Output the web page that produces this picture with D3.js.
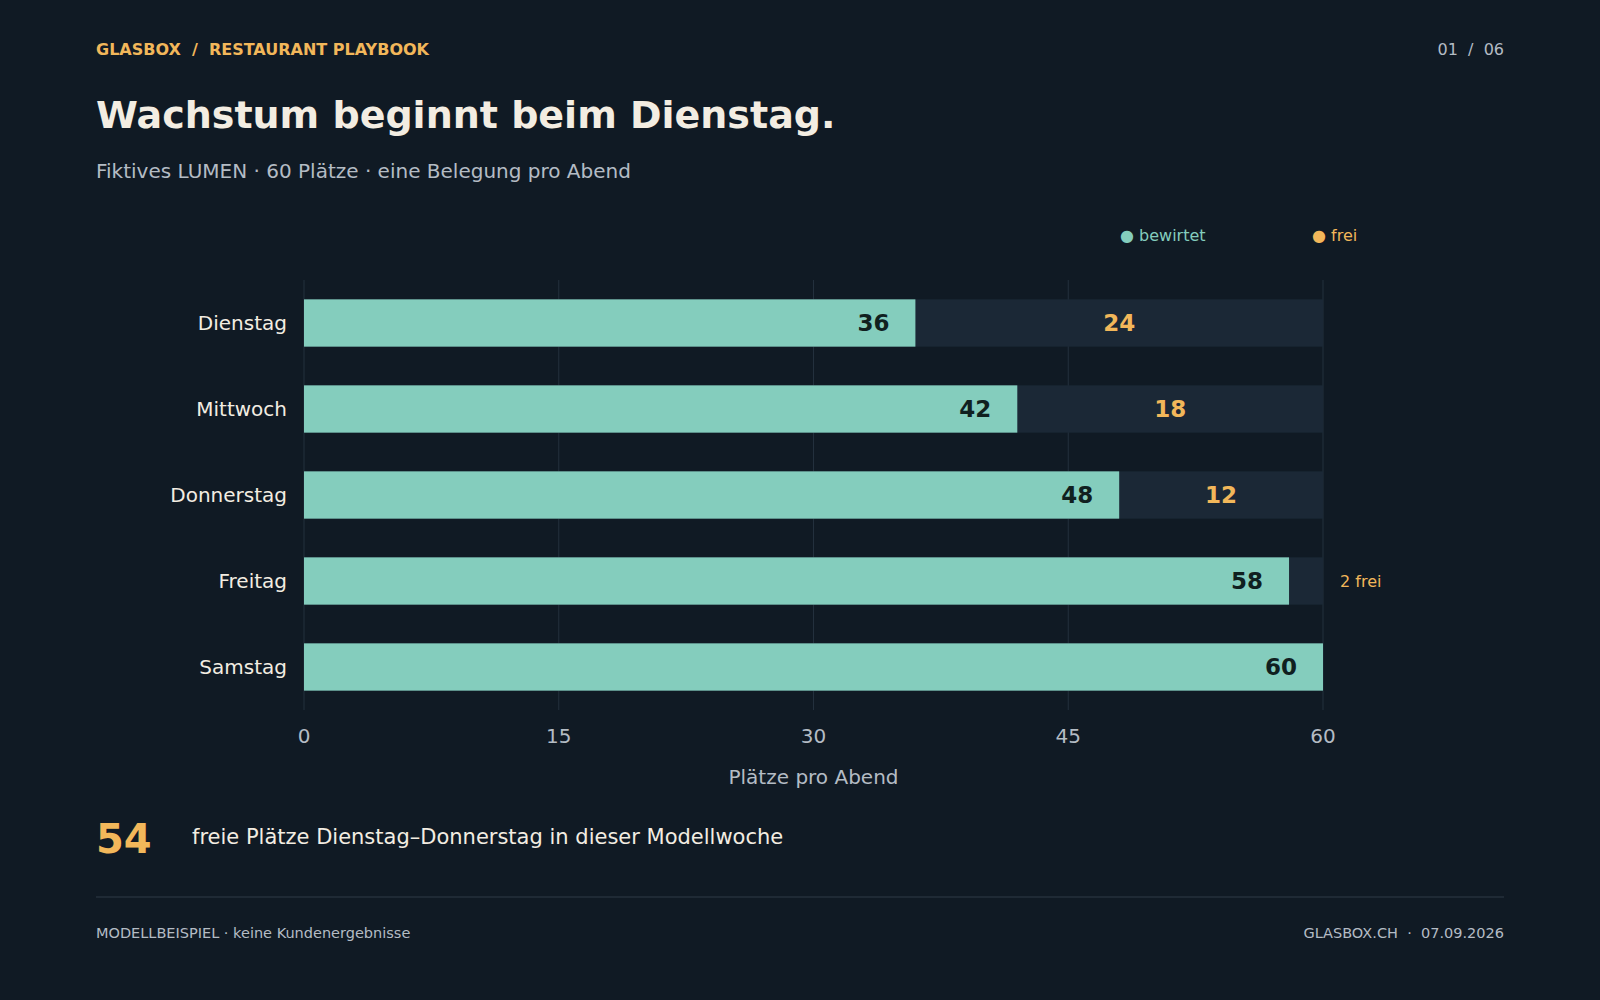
<!DOCTYPE html>
<html><head><meta charset="utf-8">
<script src="https://cdn.jsdelivr.net/npm/d3@7/dist/d3.min.js"></script>
<style>html,body{margin:0;background:#101a24;}svg{display:block;font-family:"DejaVu Sans",sans-serif;}</style>
</head><body>
<svg id="c" width="1600" height="1000"></svg>
<script>
const days = ["Dienstag","Mittwoch","Donnerstag","Freitag","Samstag"];
const served = [36,42,48,58,60];
const capacity = 60;
const ticks = [0,15,30,45,60];

const svg = d3.select("#c");
const W=1600,H=1000;
svg.append("rect").attr("width",W).attr("height",H).attr("fill","#101a24");
const teal="#84cdbd", orange="#f2b75a", light="#f3ede2", muted="#b4bcc4", gap="#1b2836";

svg.append("text").attr("x",96).attr("y",55).attr("fill",orange).attr("font-size",16).attr("font-weight","bold").text("GLASBOX  /  RESTAURANT PLAYBOOK").attr("xml:space","preserve");
svg.append("text").attr("x",1504).attr("y",55).attr("text-anchor","end").attr("fill",muted).attr("font-size",16).attr("xml:space","preserve").text("01  /  06");
svg.append("text").attr("x",96).attr("y",128).attr("fill",light).attr("font-size",38).attr("font-weight","bold").text("Wachstum beginnt beim Dienstag.");
svg.append("text").attr("x",96).attr("y",178).attr("fill",muted).attr("font-size",20).text("Fiktives LUMEN · 60 Plätze · eine Belegung pro Abend");

svg.append("text").attr("x",1120).attr("y",241).attr("fill",teal).attr("font-size",16).text("● bewirtet");
svg.append("text").attr("x",1312).attr("y",241).attr("fill",orange).attr("font-size",16).text("● frei");

const x=d3.scaleLinear().domain([0,capacity]).range([304,1323]);
const y=d3.scaleBand().domain(days).range([280,710]).paddingInner(0.45).paddingOuter(0.225);

svg.append("g").selectAll("line").data(ticks).join("line")
 .attr("x1",d=>x(d)).attr("x2",d=>x(d)).attr("y1",280).attr("y2",710)
 .attr("stroke","#23303d").attr("stroke-width",1);

const g=svg.append("g");
days.forEach((d,i)=>{
  const s=served[i], f=capacity-s, yy=y(d), h=y.bandwidth();
  g.append("rect").attr("x",x(0)).attr("y",yy).attr("width",x(capacity)-x(0)).attr("height",h).attr("fill",gap);
  g.append("rect").attr("x",x(0)).attr("y",yy).attr("width",x(s)-x(0)).attr("height",h).attr("fill",teal);
  g.append("text").attr("x",x(s)-26).attr("y",yy+h/2).attr("dy","0.35em").attr("text-anchor","end").attr("fill","#10201f").attr("font-size",23).attr("font-weight","bold").text(s);
  if(f>=5){
    g.append("text").attr("x",(x(s)+x(capacity))/2).attr("y",yy+h/2).attr("dy","0.35em").attr("text-anchor","middle").attr("fill",orange).attr("font-size",23).attr("font-weight","bold").text(f);
  } else if(f>0){
    g.append("text").attr("x",x(capacity)+17).attr("y",yy+h/2).attr("dy","0.35em").attr("fill",orange).attr("font-size",16).text(f+" frei");
  }
  g.append("text").attr("x",287).attr("y",yy+h/2).attr("dy","0.35em").attr("text-anchor","end").attr("fill",light).attr("font-size",20).text(d);
});

svg.append("g").selectAll("text").data(ticks).join("text")
 .attr("x",d=>x(d)).attr("y",743).attr("text-anchor","middle").attr("fill",muted).attr("font-size",20).text(d=>d);
svg.append("text").attr("x",(x(0)+x(60))/2).attr("y",784).attr("text-anchor","middle").attr("fill",muted).attr("font-size",20).text("Plätze pro Abend");

const free = served.slice(0,3).reduce((a,s)=>a+capacity-s,0);
svg.append("text").attr("x",96).attr("y",853).attr("fill",orange).attr("font-size",40).attr("font-weight","bold").text(free);
svg.append("text").attr("x",192).attr("y",844).attr("fill",light).attr("font-size",21).text("freie Plätze Dienstag–Donnerstag in dieser Modellwoche");

svg.append("line").attr("x1",96).attr("x2",1504).attr("y1",897).attr("y2",897).attr("stroke","#2e3a46");
svg.append("text").attr("x",96).attr("y",938).attr("fill",muted).attr("font-size",14.5).text("MODELLBEISPIEL · keine Kundenergebnisse");
svg.append("text").attr("x",1504).attr("y",938).attr("text-anchor","end").attr("fill",muted).attr("font-size",14.5).attr("xml:space","preserve").text("GLASBOX.CH  ·  07.09.2026");
</script>
</body></html>
